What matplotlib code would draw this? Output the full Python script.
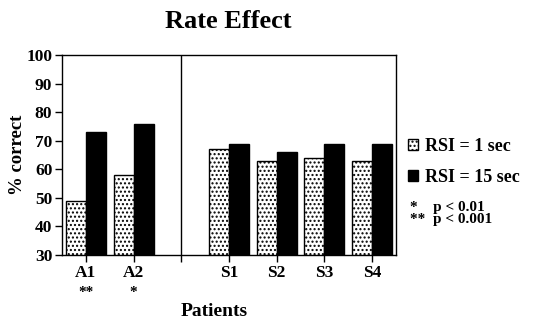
import matplotlib
matplotlib.use("Agg")
import matplotlib.pyplot as plt

plt.rcParams['font.family'] = ['Liberation Serif', 'DejaVu Serif']
plt.rcParams['font.weight'] = 'bold'
plt.rcParams['hatch.linewidth'] = 1.0

# Patient groups and their percent-correct scores
patients = ['A1', 'A2', 'S1', 'S2', 'S3', 'S4']
positions = [0, 1, 3, 4, 5, 6]
rsi_1 = [49, 58, 67, 63, 64, 63]
rsi_15 = [73, 76, 69, 66, 69, 69]
significance = ['**', '*', '', '', '', '']
series_labels = ['RSI = 1 sec', 'RSI = 15 sec']
notes = ['*    p < 0.01', '**  p < 0.001']

W, H = 551, 332
fig = plt.figure(figsize=(W / 100, H / 100), dpi=100)
ax = fig.add_axes([62 / W, (H - 255) / H, 334 / W, 200 / H])

width = 0.42
b1 = ax.bar([p - width / 2 for p in positions], rsi_1, width, bottom=0,
            facecolor='white', edgecolor='black', hatch='....', linewidth=1,
            label=series_labels[0])
b2 = ax.bar([p + width / 2 for p in positions], rsi_15, width,
            facecolor='black', edgecolor='black', linewidth=1,
            label=series_labels[1])

ax.set_xlim(-0.5, 6.5)
ax.set_ylim(30, 100)
ax.set_yticks(range(30, 101, 10))
ax.set_xticks([0, 1, 2, 3, 4, 5, 6])
ax.set_xticklabels(['A1', 'A2', '', 'S1', 'S2', 'S3', 'S4'])
ax.tick_params(axis='both', direction='out', length=5, width=1, labelsize=12.5, pad=2)
for s in ax.spines.values():
    s.set_linewidth(1)
ax.axvline(2, color='black', linewidth=1)

for p, sig in zip(positions, significance):
    if sig:
        ax.text(p, -0.19, sig, transform=ax.get_xaxis_transform(),
                ha='center', va='center', fontsize=11, fontweight='bold')

fig.text(18 / W, 1 - 155 / H, '% correct', rotation=90, ha='center', va='center',
         fontsize=13.5, fontweight='bold')
fig.text(214 / W, 1 - 312 / H, 'Patients', ha='center', va='center',
         fontsize=14, fontweight='bold')
fig.text(228 / W, 1 - 21 / H, 'Rate Effect', ha='center', va='center',
         fontsize=19, fontweight='bold')

leg = ax.legend(handles=[b1, b2], loc='upper left',
                bbox_to_anchor=(408 / W, 1 - 138 / H), bbox_transform=fig.transFigure,
                frameon=False, fontsize=13, handlelength=0.55, handleheight=0.55,
                handletextpad=0.4, labelspacing=0.75, borderaxespad=0, borderpad=0)

fig.text(410 / W, 1 - 207 / H, notes[0], ha='left', va='center', fontsize=11, fontweight='bold')
fig.text(410 / W, 1 - 220 / H, notes[1], ha='left', va='center', fontsize=11, fontweight='bold')

fig.savefig('out.png', dpi=100)
